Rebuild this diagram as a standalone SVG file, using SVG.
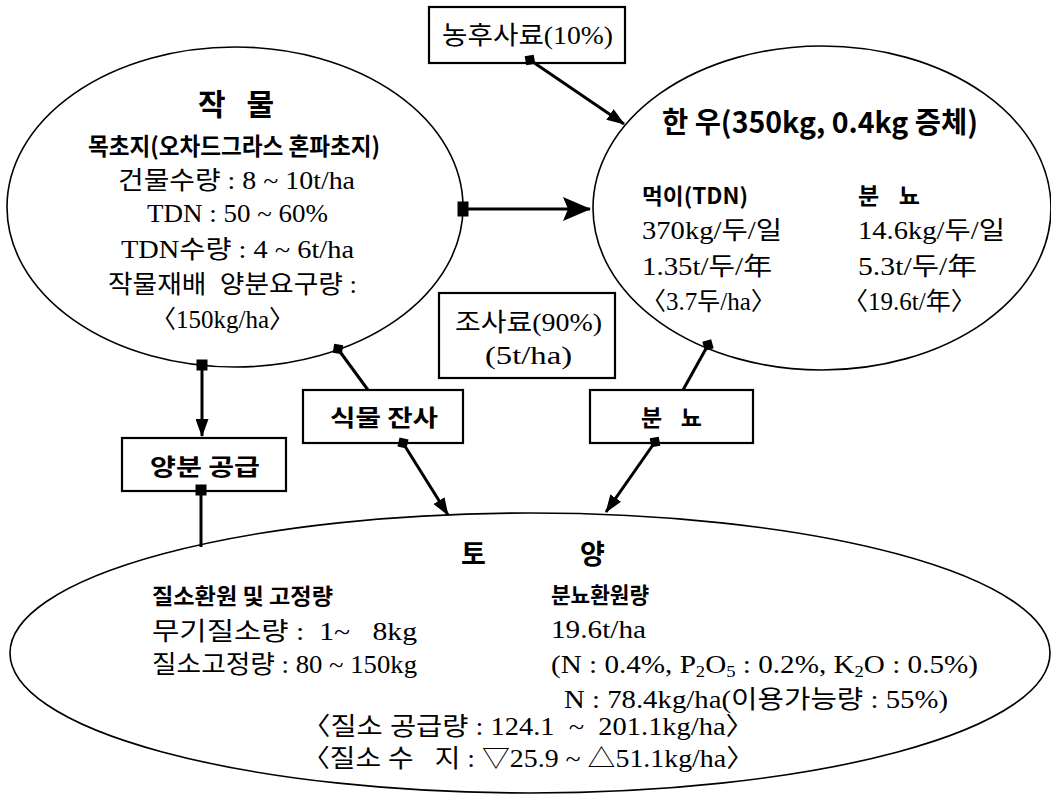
<svg xmlns="http://www.w3.org/2000/svg" width="1051" height="795" viewBox="0 0 1051 795">
<style>
.t{font-family:'Liberation Serif','Noto Sans CJK KR',serif;font-size:25px;fill:#000}
.b{font-family:'Noto Sans CJK KR','Liberation Sans',sans-serif;font-weight:bold;fill:#000}
.ell{fill:#fff;stroke:#000;stroke-width:1.6}
.box{fill:#fff;stroke:#000;stroke-width:2.2}
.con{fill:none;stroke:#000;stroke-width:3}
</style>
<defs>
<marker id="arrow" markerUnits="userSpaceOnUse" viewBox="0 0 18 13" refX="17" refY="6.5" markerWidth="18" markerHeight="13" orient="auto"><path d="M0,0 L18,6.5 L0,13 z" fill="#000"/></marker>
<marker id="bigarrow" markerUnits="userSpaceOnUse" viewBox="0 0 28 24" refX="27" refY="12" markerWidth="28" markerHeight="24" orient="auto"><path d="M0,0 L28,12 L0,24 L5,12 z" fill="#000"/></marker>
<marker id="diamond" markerUnits="userSpaceOnUse" viewBox="-7 -7 14 14" refX="0" refY="0" markerWidth="14" markerHeight="14" orient="auto"><path d="M0,-6.5 L6.5,0 L0,6.5 L-6.5,0 z" fill="#000"/></marker>
<marker id="square" markerUnits="userSpaceOnUse" viewBox="-6 -6 12 12" refX="0" refY="0" markerWidth="12" markerHeight="12" orient="auto"><rect x="-5.5" y="-5.5" width="11" height="11" fill="#000"/></marker>
<marker id="bigsquare" markerUnits="userSpaceOnUse" viewBox="-6 -8 12 16" refX="0" refY="0" markerWidth="12" markerHeight="16" orient="auto"><rect x="-5.5" y="-7.5" width="11" height="15" fill="#000"/></marker>
</defs>

<g id="crop">
<ellipse class="ell" cx="235" cy="207" rx="228" ry="160"/>
<text class="b" x="198" y="115" font-size="30" textLength="76" lengthAdjust="spacing">작 물</text>
<text class="b" x="88" y="155" font-size="24" textLength="292" lengthAdjust="spacingAndGlyphs">목초지(오차드그라스 혼파초지)</text>
<text class="t" x="118" y="189" textLength="237" lengthAdjust="spacingAndGlyphs">건물수량 : 8 ~ 10t/ha</text>
<text class="t" x="147" y="222" textLength="181" lengthAdjust="spacingAndGlyphs">TDN : 50 ~ 60%</text>
<text class="t" x="121" y="258" textLength="233" lengthAdjust="spacingAndGlyphs">TDN수량 : 4 ~ 6t/ha</text>
<text class="t" x="108" y="293" textLength="249" lengthAdjust="spacingAndGlyphs" xml:space="preserve">작물재배  양분요구량 :</text>
<text class="t" x="151" y="328" font-size="28">〈150kg/ha〉</text>
</g>

<g id="hanwoo">
<ellipse class="ell" cx="822" cy="208" rx="229" ry="162"/>
<text class="b" x="662" y="133" font-size="29" textLength="316" lengthAdjust="spacingAndGlyphs">한 우(350kg, 0.4kg 증체)</text>
<text class="b" x="642" y="204" font-size="22" textLength="106" lengthAdjust="spacingAndGlyphs">먹이(TDN)</text>
<text class="t" x="642" y="239" textLength="140" lengthAdjust="spacingAndGlyphs">370kg/두/일</text>
<text class="t" x="642" y="275" textLength="130" lengthAdjust="spacingAndGlyphs">1.35t/두/年</text>
<text class="t" x="641" y="310" font-size="27">〈3.7두/ha〉</text>
<text class="b" x="858" y="204" font-size="23" textLength="62" lengthAdjust="spacing">분 뇨</text>
<text class="t" x="858" y="239" textLength="147" lengthAdjust="spacingAndGlyphs">14.6kg/두/일</text>
<text class="t" x="858" y="275" textLength="119" lengthAdjust="spacingAndGlyphs">5.3t/두/年</text>
<text class="t" x="843" y="310" font-size="28">〈19.6t/年〉</text>
</g>

<g id="soil">
<ellipse class="ell" cx="530" cy="653" rx="520" ry="140"/>
<text class="b" font-size="27" y="564"><tspan x="461">토</tspan><tspan x="580">양</tspan></text>
<text class="b" x="152" y="604" font-size="22" textLength="181" lengthAdjust="spacingAndGlyphs">질소환원 및 고정량</text>
<text class="t" x="152" y="640" textLength="265" lengthAdjust="spacingAndGlyphs" xml:space="preserve">무기질소량 :  1~   8kg</text>
<text class="t" x="152" y="673" textLength="265" lengthAdjust="spacingAndGlyphs">질소고정량 : 80 ~ 150kg</text>
<text class="b" x="551" y="603" font-size="22" textLength="98" lengthAdjust="spacingAndGlyphs">분뇨환원량</text>
<text class="t" x="551" y="638" textLength="95" lengthAdjust="spacingAndGlyphs">19.6t/ha</text>
<text class="t" x="551" y="673" textLength="427" lengthAdjust="spacingAndGlyphs">(N : 0.4%, P<tspan font-size="16" dy="4">2</tspan><tspan dy="-4">O</tspan><tspan font-size="16" dy="4">5</tspan><tspan dy="-4"> : 0.2%, K</tspan><tspan font-size="16" dy="4">2</tspan><tspan dy="-4">O : 0.5%)</tspan></text>
<text class="t" x="564" y="708" textLength="384" lengthAdjust="spacingAndGlyphs">N : 78.4kg/ha(이용가능량 : 55%)</text>
<text class="t" x="302" y="735" textLength="452" lengthAdjust="spacingAndGlyphs" xml:space="preserve">〈질소 공급량 : 124.1  ~  201.1kg/ha〉</text>
<text class="t" x="302" y="767" textLength="452" lengthAdjust="spacingAndGlyphs" xml:space="preserve">〈질소 수   지 : ▽25.9 ~ △51.1kg/ha〉</text>
</g>

<g id="concentrate">
<rect class="box" x="429" y="7" width="196" height="56"/>
<text class="t" x="442" y="44" textLength="171" lengthAdjust="spacingAndGlyphs">농후사료(10%)</text>
</g>

<g id="roughage">
<rect class="box" x="439" y="293" width="176" height="85"/>
<text class="t" x="455" y="331" textLength="147" lengthAdjust="spacingAndGlyphs">조사료(90%)</text>
<text class="t" x="485" y="364" textLength="87" lengthAdjust="spacingAndGlyphs">(5t/ha)</text>
</g>

<g id="residue">
<rect class="box" x="303" y="390" width="160" height="53"/>
<text class="b" x="330" y="426" font-size="23" textLength="108" lengthAdjust="spacingAndGlyphs">식물 잔사</text>
</g>

<g id="manure">
<rect class="box" x="590" y="390" width="163" height="53"/>
<text class="b" x="641" y="426" font-size="23" textLength="61" lengthAdjust="spacing">분 뇨</text>
</g>

<g id="nutrient">
<rect class="box" x="122" y="438" width="164" height="53"/>
<text class="b" x="150" y="475" font-size="23" textLength="110" lengthAdjust="spacingAndGlyphs">양분 공급</text>
</g>

<g id="connectors">
<path class="con" d="M530,60 L624,124" marker-start="url(#diamond)" marker-end="url(#arrow)"/>
<path class="con" d="M463,209 L590,209" stroke-width="8" marker-start="url(#bigsquare)" marker-end="url(#bigarrow)"/>
<path class="con" d="M202,365 L202,436" marker-start="url(#square)" marker-end="url(#arrow)"/>
<path class="con" d="M201,490 L201,547" marker-start="url(#square)"/>
<path class="con" d="M338,349 L368,390" marker-start="url(#diamond)"/>
<path class="con" d="M403,443 L448,515" marker-start="url(#diamond)" marker-end="url(#arrow)"/>
<path class="con" d="M708,345 L683,390" marker-start="url(#diamond)"/>
<path class="con" d="M655,442 L606,512" marker-start="url(#diamond)" marker-end="url(#arrow)"/>
</g>
</svg>
